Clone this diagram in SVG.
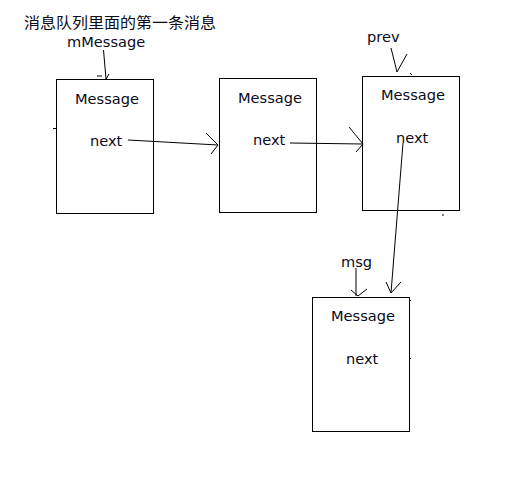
<svg xmlns="http://www.w3.org/2000/svg" width="526" height="496" viewBox="0 0 526 496">
<style>
.box{fill:#fff;stroke:#000;stroke-width:1}
.t{font-family:"DejaVu Sans",sans-serif;font-size:14.6px;fill:#0a0a1a}
.cjk{font-family:"Noto Sans CJK SC","DejaVu Sans",sans-serif;font-size:15px;fill:#0a0a1a}
.ln{fill:none;stroke:#000;stroke-width:1}
</style>
<rect width="526" height="496" fill="#fff"/>
<text class="cjk" x="24" y="27.5" textLength="192" lengthAdjust="spacingAndGlyphs">消息队列里面的第一条消息</text>
<text class="t" x="67" y="46.5">mMessage</text>
<text class="t" x="367" y="42">prev</text>
<text class="t" x="341" y="267">msg</text>
<g id="node1">
<rect class="box" x="56.5" y="79.5" width="97" height="134"/>
<text class="t" x="75" y="104">Message</text>
<text class="t" x="90" y="146">next</text>
</g>
<g id="node2">
<rect class="box" x="219.5" y="78.5" width="97" height="134"/>
<text class="t" x="238" y="103">Message</text>
<text class="t" x="253" y="145">next</text>
</g>
<g id="node3">
<rect class="box" x="362.5" y="76.5" width="97" height="134"/>
<text class="t" x="381" y="100">Message</text>
<text class="t" x="396" y="143">next</text>
</g>
<g id="node4">
<rect class="box" x="312.5" y="297.5" width="97" height="134"/>
<text class="t" x="331" y="321">Message</text>
<text class="t" x="346" y="364">next</text>
</g>
<g id="connectors">
<path class="ln" d="M103.5,50 L106,79 M97,76 L102,76 M106,79 L109,74"/>
<path class="ln" d="M128,140 L218,145 M206,133 L218,145 L211,154"/>
<path class="ln" d="M290,143 L363,144 M349,127 L363,144 L356,152"/>
<path class="ln" d="M391,48 L397,72 M407,54 L397,72"/>
<path class="ln" d="M356,268 L356,296 M351,290 L358,296 L367,289"/>
<path class="ln" d="M403,143 L391,293 M386,282 L391,293 L401,282"/>
<path class="ln" d="M53,128.5 L56,128.5 M443,214 L443,216 M409,300.5 L411,300.5 M409,358.5 L411,358.5 M410,73 L412,75"/>
</g>
</svg>
